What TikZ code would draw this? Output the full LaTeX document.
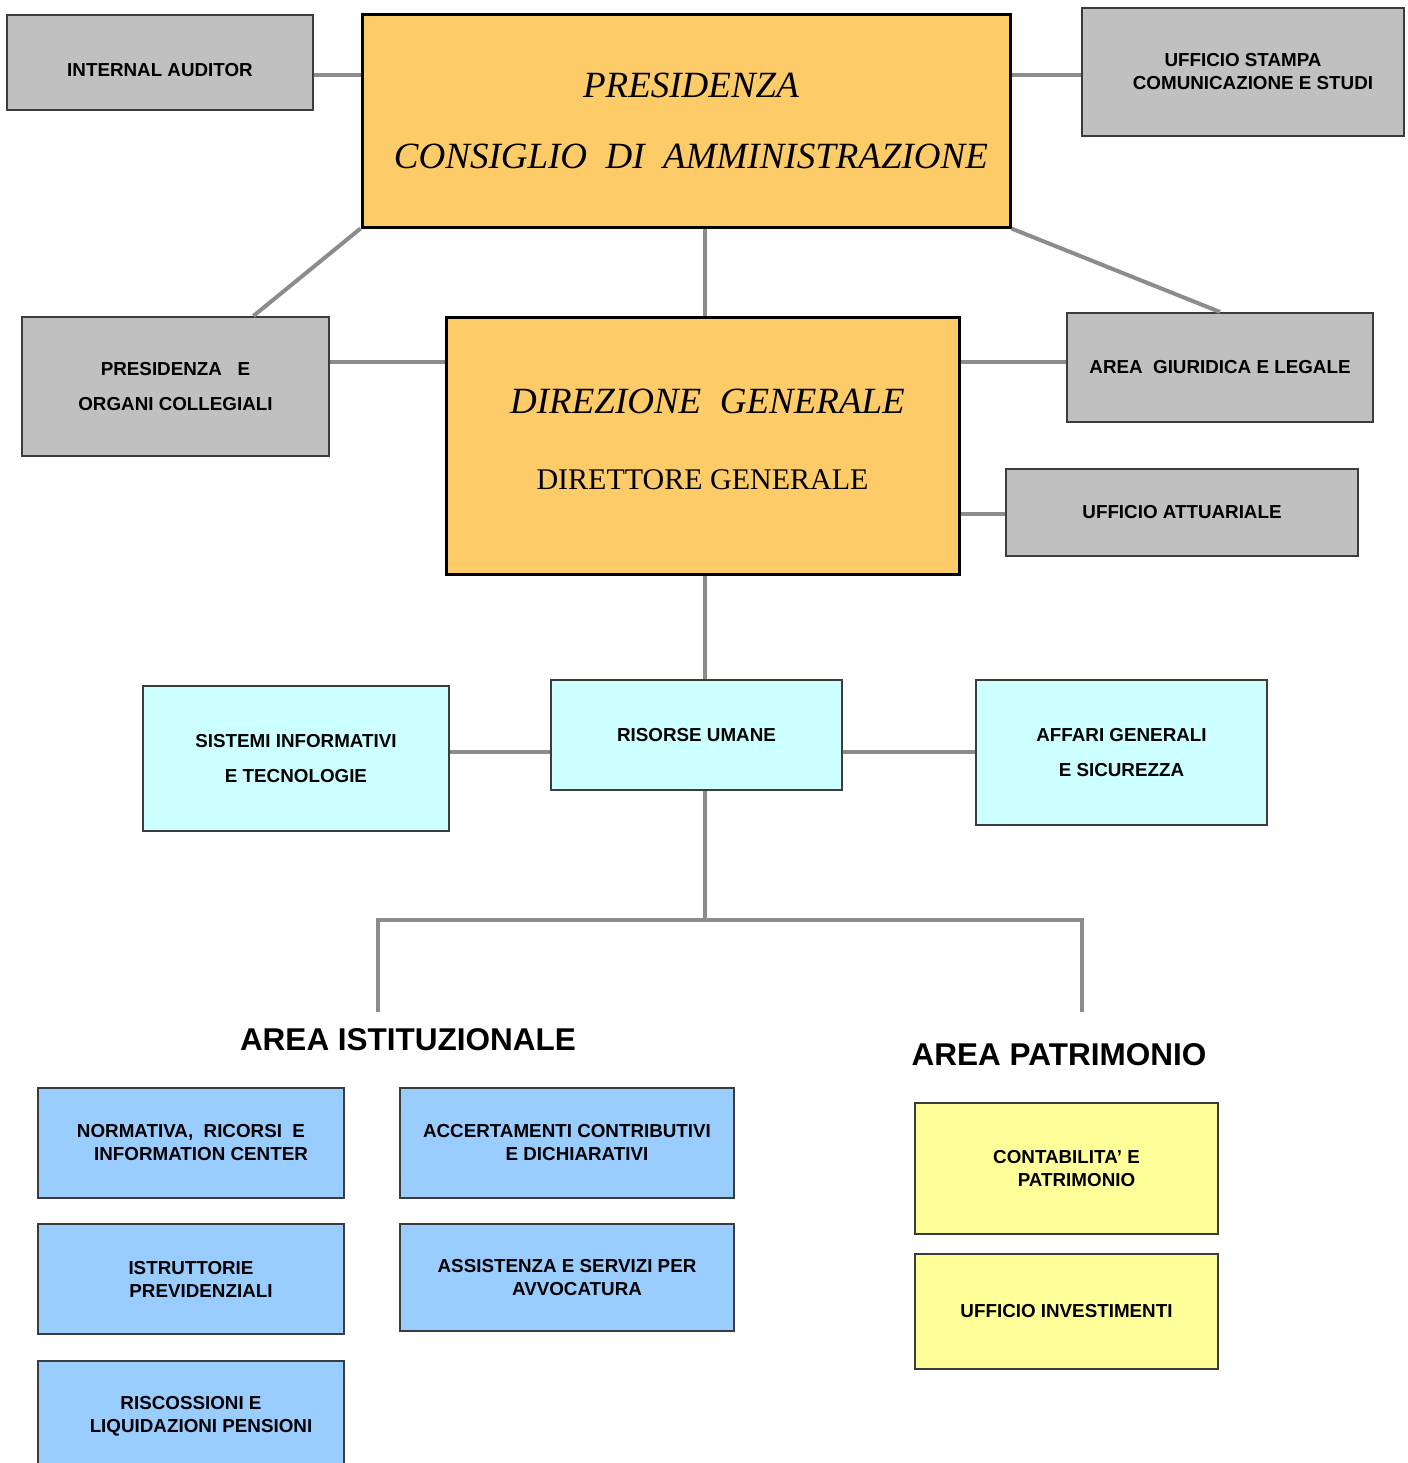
\documentclass[tikz,border=0pt]{standalone}
\usepackage{fontspec}
\setmainfont{Liberation Serif}
\setsansfont{Liberation Sans}
\usetikzlibrary{calc}

\definecolor{boxgray}{HTML}{C0C0C0}
\definecolor{edgegray}{HTML}{3C3C3C}
\definecolor{linkgray}{HTML}{8C8C8C}
\definecolor{headorange}{HTML}{FECB69}
\definecolor{staffcyan}{HTML}{CCFFFF}
\definecolor{unitblue}{HTML}{99CCFF}
\definecolor{unityellow}{HTML}{FFFF99}

% shift a second line to the right (centred lines)
\newcommand{\indentline}{\hspace*{10pt}}

\begin{document}
\begin{tikzpicture}[x=0.5pt,y=-0.5pt,
  unit/.style={draw=edgegray, line width=1pt, align=center, inner sep=0pt,
    font=\sffamily\bfseries\fontsize{9.4}{11.5}\selectfont, text=black},
  wideunit/.style={unit, font=\sffamily\bfseries\fontsize{9.4}{17.5}\selectfont},
  grayunit/.style={unit, fill=boxgray},
  graywide/.style={wideunit, fill=boxgray},
  cyanunit/.style={wideunit, fill=staffcyan},
  blueunit/.style={unit, fill=unitblue},
  yellowunit/.style={unit, fill=unityellow},
  headbox/.style={draw=black, line width=1.5pt, fill=headorange, align=center,
    inner sep=0pt, text=black},
  areatitle/.style={font=\sffamily\bfseries\fontsize{15.75}{18}\selectfont, inner sep=0pt},
  conn/.style={draw=linkgray, line width=2pt}
]
\clip (0,0) rectangle (1408,1463);
\fill[white] (0,0) rectangle (1408,1463);

% ---- top level ----
\node[headbox, minimum width=324pt, minimum height=106.5pt,
      font=\itshape\fontsize{18.5}{35.5}\selectfont] (pres) at (686,120.5)
  {\hspace*{5pt}PRESIDENZA\\\hspace*{5pt}CONSIGLIO\ \ DI\ \ AMMINISTRAZIONE};
\node[grayunit, minimum width=153pt, minimum height=47.5pt,
      text height=13.6pt, text depth=0pt] (ia) at (160,62.5)
  {INTERNAL AUDITOR};
\node[grayunit, minimum width=161pt, minimum height=64pt] (stampa) at (1243,72)
  {UFFICIO STAMPA\\\indentline COMUNICAZIONE E STUDI};

% ---- general direction ----
\node[headbox, minimum width=256.5pt, minimum height=128.5pt,
      font=\fontsize{18.5}{38}\selectfont] (dg) at (702.5,445.5)
  {{\itshape\hspace*{5pt}DIREZIONE\ \ GENERALE}\\
   {\fontsize{15}{38}\selectfont DIRETTORE GENERALE\rule[-6pt]{0pt}{0pt}}};
\node[graywide, minimum width=153.5pt, minimum height=69.5pt] (poc) at (175.5,386.5)
  {PRESIDENZA\ \ \ E\\ORGANI COLLEGIALI};
\node[grayunit, minimum width=153pt, minimum height=54.5pt] (legale) at (1220,367.5)
  {AREA\ \ GIURIDICA E LEGALE};
\node[grayunit, minimum width=176pt, minimum height=43.5pt] (attuar) at (1182,512.5)
  {UFFICIO ATTUARIALE};

% ---- staff units ----
\node[cyanunit, minimum width=145.5pt, minimum height=55pt] (ru) at (696.5,735)
  {RISORSE UMANE};
\node[cyanunit, minimum width=153pt, minimum height=72.5pt] (sit) at (296,758.5)
  {SISTEMI INFORMATIVI\\E TECNOLOGIE};
\node[cyanunit, minimum width=145.5pt, minimum height=72.5pt] (ag) at (1121.5,752.5)
  {AFFARI GENERALI\\E SICUREZZA};

% ---- areas ----
\node[areatitle] (aist) at (408,1040) {AREA ISTITUZIONALE};
\node[areatitle] (apat) at (1059,1055) {AREA PATRIMONIO};

\node[blueunit, minimum width=153pt, minimum height=55pt] (norm) at (191,1143)
  {NORMATIVA,\ \ RICORSI\ \ E\\\indentline INFORMATION CENTER};
\node[blueunit, minimum width=167pt, minimum height=55pt] (acc) at (567,1143)
  {ACCERTAMENTI CONTRIBUTIVI\\\indentline E DICHIARATIVI};
\node[blueunit, minimum width=153pt, minimum height=55pt] (istr) at (191,1279)
  {ISTRUTTORIE\\\indentline PREVIDENZIALI};
\node[blueunit, minimum width=167pt, minimum height=53.5pt] (ass) at (567,1277.5)
  {ASSISTENZA E SERVIZI PER\\\indentline AVVOCATURA};
\node[blueunit, minimum width=153pt, minimum height=55pt] (risc) at (191,1416)
  {RISCOSSIONI E\\\indentline LIQUIDAZIONI PENSIONI};

\node[yellowunit, minimum width=151.5pt, minimum height=65.5pt] (cont) at (1066.5,1168.5)
  {CONTABILITA' E\\\indentline PATRIMONIO};
\node[yellowunit, minimum width=151.5pt, minimum height=57.5pt] (inv) at (1066.5,1311.5)
  {UFFICIO INVESTIMENTI};

% ---- connectors ----
\coordinate (hub) at (705,920);
\coordinate (busL) at (378,1012);
\coordinate (busR) at (1082,1012);

\draw[conn] (ia.east |- 0,75) -- (pres.west |- 0,75);
\draw[conn] (pres.east |- 0,75) -- (stampa.west |- 0,75);
\draw[conn] (pres.south west) -- ($(poc.north west)!0.752!(poc.north east)$);
\draw[conn] (pres.south east) -- (legale.north);
\draw[conn] (pres.south -| hub) -- (dg.north -| hub);
\draw[conn] (poc.east |- 0,362) -- (dg.west |- 0,362);
\draw[conn] (dg.east |- 0,362) -- (legale.west |- 0,362);
\draw[conn] (dg.east |- 0,514) -- (attuar.west |- 0,514);
\draw[conn] (dg.south -| hub) -- (ru.north -| hub);
\draw[conn] (sit.east |- 0,752) -- (ru.west |- 0,752);
\draw[conn] (ru.east |- 0,752) -- (ag.west |- 0,752);
\draw[conn] (ru.south -| hub) -- (hub);
\draw[conn] (busL) |- (hub) -| (busR);
\end{tikzpicture}
\end{document}
